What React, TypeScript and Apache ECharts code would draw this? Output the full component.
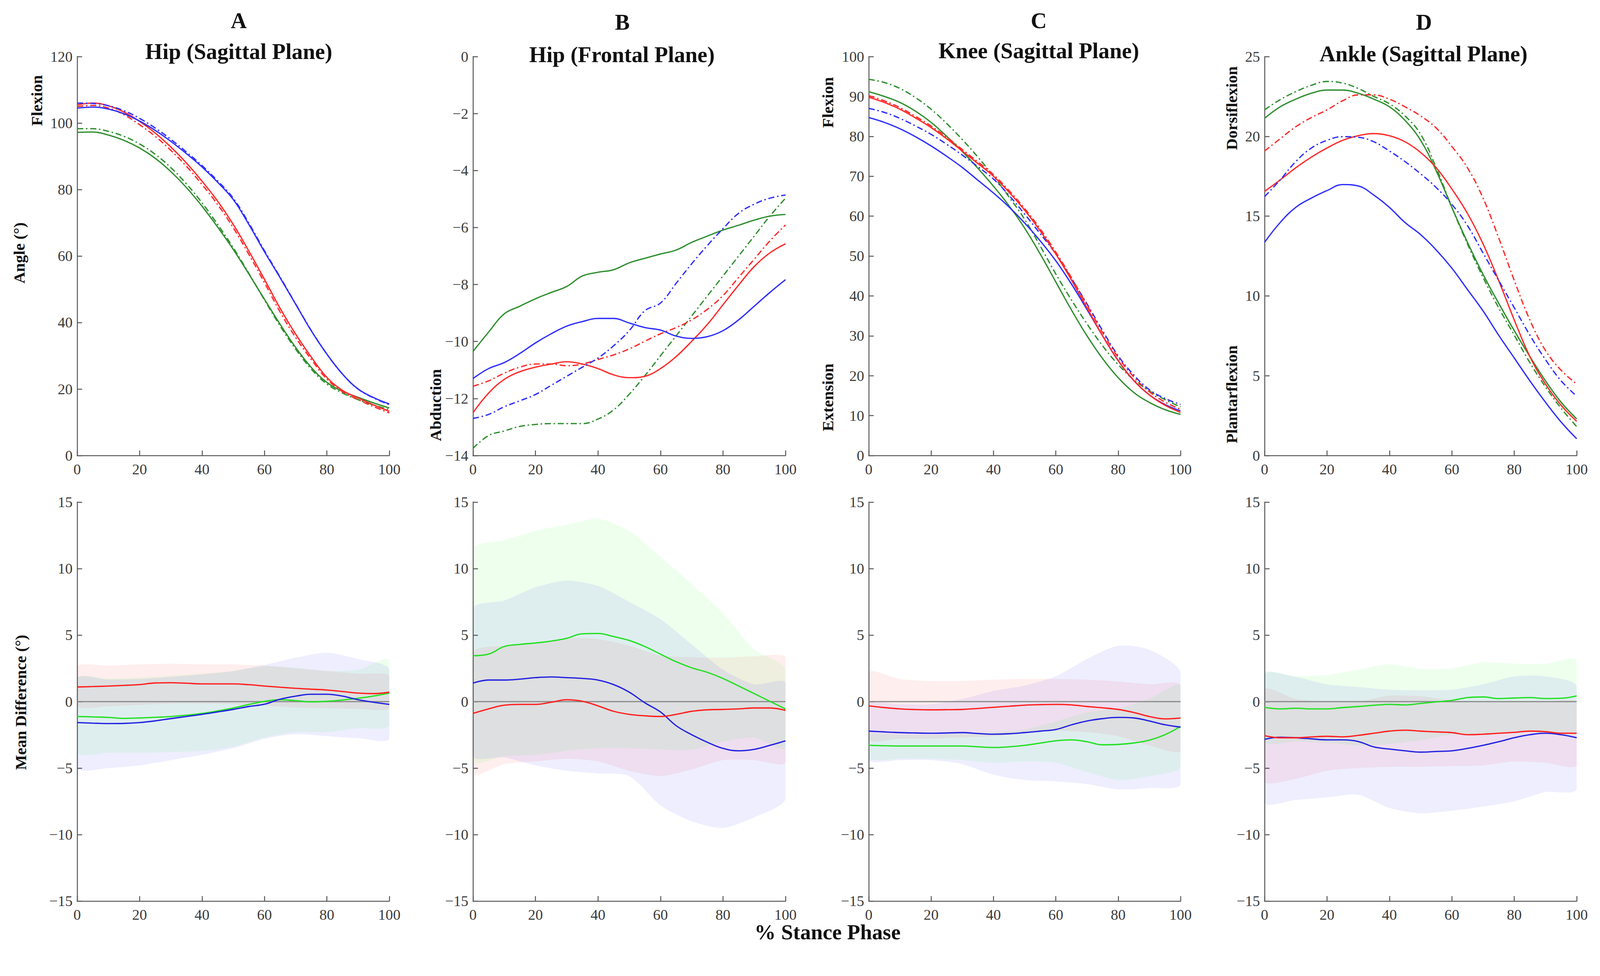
import { useEffect, useRef, useState } from "react";
import * as echarts from "echarts";

// ---------- sampling positions (% stance) ----------
const X = [0, 5, 10, 15, 20, 25, 30, 35, 40, 45, 50, 55, 60, 65, 70, 75, 80, 85, 90, 95, 100];
const XB = [0, 10, 20, 30, 40, 50, 60, 70, 80, 90, 100];

// ---------- panel titles ----------
const PANEL_LETTERS = ["A", "B", "C", "D"];
const PANEL_TITLES = ["Hip (Sagittal Plane)", "Hip (Frontal Plane)", "Knee (Sagittal Plane)", "Ankle (Sagittal Plane)"];

// ---------- top row: joint angles ----------
const A_blue_solid = [104.5, 104.8, 104.2, 102.8, 100.6, 97.8, 94.5, 90.8, 86.8, 82.2, 77.0, 69.5, 61.3, 53.5, 45.5, 37.5, 30.5, 24.5, 20.0, 17.4, 15.5];
const A_blue_dd = [106.0, 105.9, 105.2, 103.7, 101.4, 98.5, 95.1, 91.3, 87.2, 82.6, 77.4, 69.9, 61.6, 53.7, 45.6, 37.6, 30.5, 24.5, 20.0, 17.3, 15.3];
const A_red_solid = [105.5, 106.0, 105.2, 103.3, 100.5, 97.0, 92.8, 88.0, 82.5, 76.5, 69.5, 61.5, 53.0, 44.3, 36.5, 29.6, 23.5, 19.6, 17.3, 15.2, 13.3];
const A_red_dd = [105.0, 105.3, 104.5, 102.5, 99.5, 96.0, 91.8, 87.0, 81.5, 75.5, 68.5, 60.5, 52.0, 43.2, 35.5, 28.9, 23.0, 19.2, 16.8, 14.7, 12.8];
const A_green_solid = [97.2, 97.3, 96.4, 94.8, 92.5, 89.4, 85.4, 80.6, 75.0, 68.7, 62.0, 54.6, 47.0, 39.5, 32.5, 26.5, 22.0, 19.3, 17.5, 15.8, 14.3];
const A_green_dd = [98.3, 98.3, 97.5, 96.0, 93.7, 90.6, 86.6, 81.7, 76.0, 69.5, 62.5, 54.8, 46.8, 39.0, 32.0, 26.0, 21.5, 18.8, 16.8, 15.2, 13.8];

const B_blue_solid = [-11.3, -10.95, -10.74, -10.42, -10.05, -9.73, -9.46, -9.3, -9.19, -9.19, -9.35, -9.51, -9.6, -9.81, -9.89, -9.83, -9.62, -9.24, -8.76, -8.28, -7.83];
const B_blue_dd = [-12.7, -12.56, -12.29, -12.08, -11.86, -11.54, -11.22, -10.9, -10.58, -10.15, -9.62, -8.92, -8.65, -7.96, -7.27, -6.63, -6.04, -5.5, -5.18, -4.97, -4.86];
const B_red_solid = [-12.5, -11.81, -11.33, -11.06, -10.9, -10.79, -10.71, -10.79, -10.95, -11.17, -11.27, -11.22, -10.95, -10.53, -9.99, -9.4, -8.71, -8.02, -7.37, -6.89, -6.57];
const B_red_dd = [-11.57, -11.38, -11.11, -10.9, -10.79, -10.79, -10.85, -10.79, -10.63, -10.47, -10.26, -9.99, -9.73, -9.51, -9.24, -8.87, -8.39, -7.75, -7.11, -6.47, -5.91];
const B_green_solid = [-10.35, -9.67, -9.03, -8.76, -8.5, -8.28, -8.07, -7.7, -7.57, -7.48, -7.24, -7.08, -6.93, -6.79, -6.52, -6.3, -6.09, -5.92, -5.74, -5.6, -5.54];
const B_green_dd = [-13.75, -13.3, -13.14, -12.98, -12.91, -12.88, -12.88, -12.88, -12.72, -12.4, -11.85, -11.2, -10.5, -9.8, -9.1, -8.4, -7.7, -7.0, -6.3, -5.6, -4.97];

const C_blue_solid = [84.7, 83.5, 81.9, 79.9, 77.6, 75.0, 72.2, 69.0, 65.8, 62.3, 58.3, 53.8, 48.8, 43.0, 36.6, 30.0, 23.8, 18.8, 15.2, 12.8, 11.2];
const C_blue_dd = [87.0, 86.0, 84.5, 82.6, 80.5, 78.0, 75.3, 72.4, 69.3, 65.2, 60.5, 55.6, 50.5, 44.4, 38.0, 31.3, 25.0, 20.2, 16.5, 14.3, 12.8];
const C_red_solid = [89.8, 88.5, 86.8, 84.6, 82.2, 79.4, 76.3, 73.2, 70.0, 66.0, 61.5, 56.3, 50.5, 44.0, 37.0, 30.0, 23.8, 18.8, 15.2, 12.6, 10.8];
const C_red_dd = [90.2, 88.9, 87.2, 85.0, 82.6, 79.8, 76.7, 73.6, 70.4, 66.4, 61.9, 56.8, 51.0, 44.6, 37.7, 30.8, 24.6, 19.7, 16.0, 13.4, 11.6];
const C_green_solid = [91.2, 90.0, 88.5, 86.3, 83.5, 80.0, 76.2, 72.0, 67.5, 62.6, 57.0, 50.5, 43.5, 36.5, 30.0, 24.3, 19.5, 15.8, 13.3, 11.5, 10.3];
const C_green_dd = [94.3, 93.5, 92.0, 89.7, 86.8, 83.2, 79.2, 74.8, 70.0, 64.8, 59.2, 52.5, 45.5, 39.0, 33.0, 27.5, 22.8, 19.0, 16.2, 14.0, 12.2];

const D_blue_solid = [13.36, 14.6, 15.55, 16.13, 16.6, 16.98, 16.89, 16.32, 15.55, 14.6, 13.84, 12.88, 11.74, 10.4, 9.06, 7.54, 6.11, 4.68, 3.34, 2.1, 1.05];
const D_blue_dd = [16.22, 17.27, 18.42, 19.27, 19.75, 19.98, 19.94, 19.66, 19.08, 18.42, 17.65, 16.79, 15.74, 14.41, 12.69, 10.97, 9.26, 7.54, 6.01, 4.68, 3.72];
const D_red_solid = [16.55, 17.27, 18.03, 18.7, 19.27, 19.75, 20.04, 20.17, 20.04, 19.66, 18.99, 18.03, 16.7, 15.17, 13.26, 10.97, 8.49, 6.2, 4.48, 3.15, 2.14];
const D_red_dd = [19.08, 19.85, 20.6, 21.18, 21.66, 22.23, 22.6, 22.6, 22.33, 21.85, 21.28, 20.52, 19.37, 18.03, 16.13, 13.64, 10.97, 8.49, 6.58, 5.34, 4.48];
const D_green_solid = [21.13, 21.85, 22.33, 22.7, 22.9, 22.9, 22.7, 22.33, 21.85, 21.0, 19.75, 17.84, 15.55, 13.36, 11.35, 9.54, 7.82, 6.2, 4.68, 3.34, 2.29];
const D_green_dd = [21.66, 22.3, 22.8, 23.2, 23.44, 23.34, 23.0, 22.5, 22.04, 21.28, 20.13, 18.03, 15.55, 13.26, 11.16, 9.26, 7.54, 5.82, 4.3, 2.96, 1.81];

// ---------- bottom row: mean differences ----------
const A_red_diff = [1.1, 1.13, 1.17, 1.22, 1.28, 1.4, 1.42, 1.38, 1.33, 1.33, 1.33, 1.27, 1.17, 1.08, 1.0, 0.93, 0.87, 0.76, 0.64, 0.6, 0.71];
const A_green_diff = [-1.12, -1.15, -1.19, -1.26, -1.23, -1.18, -1.12, -1.02, -0.89, -0.7, -0.48, -0.22, 0.02, 0.14, 0.07, -0.02, 0.02, 0.12, 0.25, 0.42, 0.64];
const A_blue_diff = [-1.58, -1.62, -1.65, -1.64, -1.58, -1.45, -1.28, -1.12, -0.96, -0.78, -0.59, -0.37, -0.2, 0.18, 0.41, 0.55, 0.55, 0.41, 0.14, -0.05, -0.21];

const B_red_diff = [-0.89, -0.55, -0.27, -0.21, -0.21, -0.05, 0.14, 0.02, -0.32, -0.73, -0.96, -1.07, -1.12, -0.96, -0.73, -0.62, -0.59, -0.55, -0.48, -0.48, -0.66];
const B_green_diff = [3.45, 3.57, 4.14, 4.3, 4.41, 4.55, 4.76, 5.1, 5.12, 4.89, 4.6, 4.14, 3.57, 3.0, 2.54, 2.2, 1.74, 1.17, 0.6, 0.02, -0.55];
const B_blue_diff = [1.39, 1.62, 1.62, 1.69, 1.8, 1.85, 1.8, 1.74, 1.62, 1.28, 0.71, -0.09, -0.78, -1.81, -2.49, -3.06, -3.52, -3.7, -3.59, -3.29, -2.95];

const C_red_diff = [-0.32, -0.45, -0.55, -0.6, -0.62, -0.61, -0.59, -0.52, -0.43, -0.35, -0.27, -0.23, -0.21, -0.25, -0.37, -0.47, -0.59, -0.82, -1.12, -1.3, -1.23];
const C_green_diff = [-3.29, -3.32, -3.34, -3.34, -3.34, -3.34, -3.34, -3.4, -3.45, -3.4, -3.29, -3.12, -2.95, -2.88, -3.02, -3.25, -3.22, -3.11, -2.9, -2.49, -1.87];
const C_blue_diff = [-2.22, -2.28, -2.33, -2.36, -2.38, -2.36, -2.33, -2.4, -2.45, -2.42, -2.33, -2.22, -2.1, -1.75, -1.46, -1.28, -1.19, -1.23, -1.46, -1.74, -1.92];

const D_red_diff = [-2.56, -2.72, -2.72, -2.66, -2.61, -2.65, -2.54, -2.38, -2.22, -2.15, -2.22, -2.28, -2.33, -2.49, -2.45, -2.38, -2.31, -2.22, -2.26, -2.38, -2.38];
const D_green_diff = [-0.43, -0.55, -0.5, -0.55, -0.55, -0.45, -0.37, -0.28, -0.21, -0.25, -0.14, -0.02, 0.09, 0.3, 0.35, 0.23, 0.27, 0.3, 0.23, 0.25, 0.43];
const D_blue_diff = [-2.84, -2.68, -2.72, -2.8, -2.88, -2.88, -3.0, -3.41, -3.57, -3.7, -3.8, -3.75, -3.7, -3.52, -3.29, -3.02, -2.72, -2.49, -2.38, -2.49, -2.72];

// ---------- bottom row: variability bands (upper / lower) at XB ----------
const A_red_up = [2.65, 2.7, 2.8, 2.85, 2.8, 2.8, 2.7, 2.5, 2.3, 2.1, 1.95];
const A_red_lo = [-0.35, -0.35, -0.25, -0.15, -0.15, -0.2, -0.3, -0.45, -0.5, -0.55, -0.5];
const A_blue_up = [1.75, 1.65, 1.7, 1.85, 2.05, 2.3, 2.75, 3.3, 3.68, 3.2, 2.45];
const A_blue_lo = [-5.0, -5.0, -4.8, -4.4, -4.0, -3.5, -2.8, -2.45, -2.6, -2.75, -2.8];
const A_green_up = [1.75, 1.75, 1.8, 1.95, 2.1, 2.3, 2.65, 2.55, 2.3, 2.4, 3.15];
const A_green_lo = [-3.85, -3.85, -3.85, -3.8, -3.7, -3.4, -2.7, -2.3, -2.3, -2.0, -1.8];

const B_red_up = [3.7, 4.2, 4.4, 4.75, 4.7, 4.2, 3.45, 3.35, 3.3, 3.4, 3.3];
const B_red_lo = [-5.4, -4.7, -4.5, -4.3, -4.5, -5.2, -5.6, -5.1, -4.4, -4.4, -4.55];
const B_blue_up = [7.0, 7.6, 8.6, 9.1, 8.7, 7.5, 6.2, 4.3, 2.4, 1.3, 1.4];
const B_blue_lo = [-4.1, -4.2, -4.8, -5.2, -5.4, -5.6, -7.8, -9.0, -9.5, -8.7, -7.3];
const B_green_up = [11.46, 12.14, 12.83, 13.29, 13.74, 12.83, 10.88, 8.83, 6.65, 3.91, 2.42];
const B_green_lo = [-4.5, -4.1, -4.0, -3.7, -3.5, -3.5, -3.6, -3.6, -3.0, -2.7, -3.5];

const C_red_up = [2.2, 1.7, 1.55, 1.55, 1.65, 1.7, 1.7, 1.65, 1.5, 1.3, 1.25];
const C_red_lo = [-2.85, -2.8, -2.8, -2.7, -2.6, -2.4, -2.2, -2.3, -2.6, -3.3, -3.7];
const C_blue_up = [-0.2, -0.2, -0.2, 0.2, 0.8, 1.2, 1.9, 3.2, 4.2, 3.9, 2.2];
const C_blue_lo = [-4.4, -4.4, -4.4, -4.7, -5.5, -5.9, -6.0, -6.2, -6.6, -6.5, -6.2];
const C_green_up = [-2.5, -2.5, -2.5, -2.4, -2.3, -2.1, -1.5, -0.8, -0.5, 0.2, 1.2];
const C_green_lo = [-4.3, -4.3, -4.3, -4.4, -4.6, -4.5, -4.6, -5.3, -5.9, -5.6, -4.9];

const D_red_up = [0.9, 0.2, 0.0, 0.0, 0.45, 0.4, 0.1, 0.0, 0.0, 0.0, -0.05];
const D_red_lo = [-6.0, -5.8, -5.2, -5.0, -4.9, -4.9, -4.85, -4.8, -4.5, -4.6, -4.8];
const D_blue_up = [2.05, 1.85, 1.3, 1.1, 0.9, 0.85, 0.9, 1.3, 1.9, 1.9, 1.15];
const D_blue_lo = [-7.6, -7.4, -7.2, -7.0, -8.0, -8.4, -8.2, -7.9, -7.5, -6.8, -6.6];
const D_green_up = [2.15, 1.9, 2.0, 2.4, 2.8, 2.45, 2.5, 2.95, 2.85, 2.85, 3.1];
const D_green_lo = [-3.05, -3.0, -3.1, -3.3, -3.2, -2.9, -2.5, -2.4, -2.3, -2.3, -2.4];

// ---------- axis ranges ----------
const TOP_Y = [
  { min: 0, max: 120, interval: 20 },
  { min: -14, max: 0, interval: 2 },
  { min: 0, max: 100, interval: 10 },
  { min: 0, max: 25, interval: 5 },
];
const BOTTOM_Y = { min: -15, max: 15, interval: 5 };

// ---------- styling ----------
const W = 4188;
const H = 2498;
const SERIF = '"Liberation Serif", "Times New Roman", serif';
const TOP_COLORS = { blue: "#2f2fff", red: "#ff2a2a", green: "#2f8f2f" };
const BOT_COLORS = { blue: "#2323e0", red: "#ff1f1f", green: "#22e022" };
const BAND_COLORS = { red: "#ff0000", blue: "#0000ff", green: "#00ff00" };
const DASHDOT = [16, 7, 4, 7];

const LEFTS = [202, 1238, 2274, 3310];
const WIDTHS = [817, 818, 816, 817];
const TOP_ROW = { top: 148, height: 1044 };
const BOT_ROW = { top: 1314, height: 1044 };

type Line = [number[], keyof typeof TOP_COLORS, boolean];
const TOP_LINES: Line[][] = [
  [[A_green_solid, "green", false], [A_green_dd, "green", true], [A_red_dd, "red", true], [A_red_solid, "red", false], [A_blue_dd, "blue", true], [A_blue_solid, "blue", false]],
  [[B_green_solid, "green", false], [B_green_dd, "green", true], [B_red_dd, "red", true], [B_red_solid, "red", false], [B_blue_dd, "blue", true], [B_blue_solid, "blue", false]],
  [[C_green_solid, "green", false], [C_green_dd, "green", true], [C_blue_dd, "blue", true], [C_blue_solid, "blue", false], [C_red_dd, "red", true], [C_red_solid, "red", false]],
  [[D_green_solid, "green", false], [D_green_dd, "green", true], [D_red_dd, "red", true], [D_red_solid, "red", false], [D_blue_dd, "blue", true], [D_blue_solid, "blue", false]],
];
const BOT_LINES: [number[], keyof typeof BOT_COLORS][][] = [
  [[A_green_diff, "green"], [A_blue_diff, "blue"], [A_red_diff, "red"]],
  [[B_green_diff, "green"], [B_blue_diff, "blue"], [B_red_diff, "red"]],
  [[C_green_diff, "green"], [C_blue_diff, "blue"], [C_red_diff, "red"]],
  [[D_green_diff, "green"], [D_blue_diff, "blue"], [D_red_diff, "red"]],
];
const BANDS: [number[], number[], keyof typeof BAND_COLORS][][] = [
  [[A_red_up, A_red_lo, "red"], [A_green_up, A_green_lo, "green"], [A_blue_up, A_blue_lo, "blue"]],
  [[B_red_up, B_red_lo, "red"], [B_green_up, B_green_lo, "green"], [B_blue_up, B_blue_lo, "blue"]],
  [[C_red_up, C_red_lo, "red"], [C_green_up, C_green_lo, "green"], [C_blue_up, C_blue_lo, "blue"]],
  [[D_red_up, D_red_lo, "red"], [D_green_up, D_green_lo, "green"], [D_blue_up, D_blue_lo, "blue"]],
];

const fmt = (v: number) => String(v).replace("-", "\u2212");

function buildOption() {
  const grid: any[] = [];
  const xAxis: any[] = [];
  const yAxis: any[] = [];
  const series: any[] = [];
  const axisLine = { show: true, onZero: false, lineStyle: { color: "#5a5a5a", width: 2.6 } };
  const axisTick = { show: true, inside: true, length: 13, lineStyle: { color: "#5a5a5a", width: 2.6 } };
  const label = (margin: number) => ({ fontFamily: SERIF, fontSize: 39, color: "#3a3a3a", margin, formatter: fmt });

  for (let row = 0; row < 2; row++) {
    for (let p = 0; p < 4; p++) {
      const k = row * 4 + p;
      const r = row === 0 ? TOP_ROW : BOT_ROW;
      grid.push({ left: LEFTS[p], width: WIDTHS[p], top: r.top, height: r.height, containLabel: false });
      xAxis.push({
        type: "value", gridIndex: k, min: 0, max: 100, interval: 20,
        axisLine, axisTick, splitLine: { show: false }, axisLabel: label(16),
      });
      const yr = row === 0 ? TOP_Y[p] : BOTTOM_Y;
      yAxis.push({
        type: "value", gridIndex: k, min: yr.min, max: yr.max, interval: yr.interval,
        axisLine, axisTick, splitLine: { show: false }, axisLabel: label(12),
      });
      if (row === 0) {
        TOP_LINES[p].forEach(([arr, c, dd]) => {
          series.push({
            type: "line", xAxisIndex: k, yAxisIndex: k, symbol: "none", smooth: 0.4,
            data: X.map((x, i) => [x, arr[i]]),
            lineStyle: { color: TOP_COLORS[c], width: 3.4, type: dd ? DASHDOT : "solid" },
            silent: true, z: 3,
          });
        });
      } else {
        BANDS[p].forEach(([up, lo, c]) => {
          series.push({
            type: "custom", xAxisIndex: k, yAxisIndex: k, silent: true, z: 1, clip: true,
            data: XB.map((x, i) => [x, lo[i], up[i]]),
            encode: { x: 0, y: [1, 2] },
            renderItem: (params: any, api: any) => {
              if (params.dataIndex !== 0) return null;
              const upper = XB.map((x, i) => api.coord([x, up[i]]));
              const lower = XB.map((x, i) => api.coord([x, lo[i]])).reverse();
              return {
                type: "polygon",
                shape: { points: upper.concat(lower), smooth: 0.25 },
                style: { fill: BAND_COLORS[c], opacity: 0.065 },
              };
            },
          });
        });
        series.push({
          type: "line", xAxisIndex: k, yAxisIndex: k, symbol: "none",
          data: [[0, 0], [100, 0]],
          lineStyle: { color: "#8a8a8a", width: 3 }, silent: true, z: 2,
        });
        BOT_LINES[p].forEach(([arr, c]) => {
          series.push({
            type: "line", xAxisIndex: k, yAxisIndex: k, symbol: "none", smooth: 0.4,
            data: X.map((x, i) => [x, arr[i]]),
            lineStyle: { color: BOT_COLORS[c], width: 3.4 },
            silent: true, z: 3,
          });
        });
      }
    }
  }

  const txt = (x: number, y: number, text: string, size: number, rot = 0) => ({
    type: "text", x, y, rotation: rot, silent: true,
    style: {
      text, fontFamily: SERIF, fontWeight: "bold", fontSize: size, fill: "#111",
      textAlign: "center", textVerticalAlign: "middle",
    },
  });
  const R = Math.PI / 2;
  const letterPos = [[625, 54], [1629, 58], [2719, 54], [3727, 58]];
  const titlePos = [[625, 134], [1628, 143], [2719, 132], [3726, 141]];
  const graphic: any[] = [];
  PANEL_LETTERS.forEach((l, i) => graphic.push(txt(letterPos[i][0], letterPos[i][1], l, 58)));
  PANEL_TITLES.forEach((t, i) => graphic.push(txt(titlePos[i][0], titlePos[i][1], t, 58)));
  graphic.push(txt(96, 263, "Flexion", 42, R));
  graphic.push(txt(50, 662, "Angle (°)", 42, R));
  graphic.push(txt(1140, 1060, "Abduction", 42, R));
  graphic.push(txt(2167, 268, "Flexion", 42, R));
  graphic.push(txt(2167, 1040, "Extension", 42, R));
  graphic.push(txt(3224, 283, "Dorsiflexion", 42, R));
  graphic.push(txt(3224, 1032, "Plantarflexion", 42, R));
  graphic.push(txt(54, 1838, "Mean Difference (°)", 42, R));
  graphic.push(txt(2166, 2439, "% Stance Phase", 56));

  return { animation: false, backgroundColor: "#ffffff", grid, xAxis, yAxis, series, graphic };
}

export default function App() {
  const ref = useRef<HTMLDivElement>(null);
  // The page is photographed from the visible viewport; fit the 4188-wide layout into it.
  const [scale] = useState(() => (typeof window !== "undefined" ? Math.min(1, window.innerWidth / W) : 1));
  useEffect(() => {
    document.body.style.margin = "0";
    document.body.style.overflow = "hidden";
    const chart = echarts.init(ref.current as HTMLDivElement, null, { renderer: "svg" });
    chart.setOption(buildOption() as any);
    return () => chart.dispose();
  }, []);
  return (
    <div style={{ width: "100vw", height: "100vh", overflow: "hidden", background: "#fff" }}>
      <div
        ref={ref}
        style={{
          width: W, height: H, background: "#fff",
          transform: `scale(${scale})`, transformOrigin: "0 0",
        }}
      />
    </div>
  );
}
